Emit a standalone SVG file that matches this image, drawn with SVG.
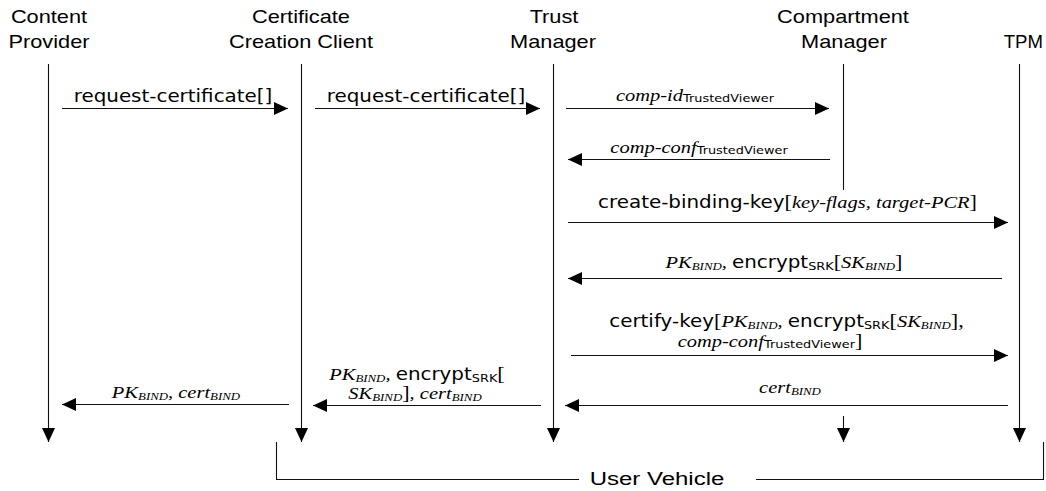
<svg xmlns="http://www.w3.org/2000/svg" width="1046" height="491" viewBox="0 0 1046 491">
<defs>
<style>
.hdr{font-family:"Liberation Sans",Arial,sans-serif;font-size:18.6px;fill:#000}
.lbl{font-family:"DejaVu Sans",Verdana,sans-serif;font-size:17px;fill:#000}
.it{font-family:"Liberation Serif","Times New Roman",serif;font-style:italic;font-size:17.5px}
.sr{font-family:"Liberation Serif","Times New Roman",serif;font-size:19px}
.sub{font-size:11px}
.ln{stroke:#111;stroke-width:1.1;fill:none}
</style>
<marker id="ah" markerUnits="userSpaceOnUse" markerWidth="14" markerHeight="13" refX="14" refY="6.5" orient="auto" viewBox="0 0 14 13">
<path d="M0,0 L14,6.5 L0,13 z" fill="#000"/>
</marker>
</defs>
<rect width="1046" height="491" fill="#fff"/>

<g id="content-provider">
<text class="hdr" transform="translate(49 0) scale(1.17 1)" x="0" y="23" text-anchor="middle">Content</text>
<text class="hdr" transform="translate(49 0) scale(1.17 1)" x="0" y="48" text-anchor="middle">Provider</text>
<line class="ln" x1="48.5" y1="64" x2="48.5" y2="442" marker-end="url(#ah)"/>
</g>
<g id="certificate-creation-client">
<text class="hdr" transform="translate(301 0) scale(1.17 1)" x="0" y="23" text-anchor="middle">Certificate</text>
<text class="hdr" transform="translate(301 0) scale(1.17 1)" x="0" y="48" text-anchor="middle">Creation Client</text>
<line class="ln" x1="301.5" y1="64" x2="301.5" y2="442" marker-end="url(#ah)"/>
</g>
<g id="trust-manager">
<text class="hdr" transform="translate(554 0) scale(1.17 1)" x="0" y="23" text-anchor="middle">Trust</text>
<text class="hdr" transform="translate(553 0) scale(1.17 1)" x="0" y="48" text-anchor="middle">Manager</text>
<line class="ln" x1="553.5" y1="64" x2="553.5" y2="442" marker-end="url(#ah)"/>
</g>
<g id="compartment-manager">
<text class="hdr" transform="translate(843 0) scale(1.17 1)" x="0" y="23" text-anchor="middle">Compartment</text>
<text class="hdr" transform="translate(844 0) scale(1.17 1)" x="0" y="48" text-anchor="middle">Manager</text>
<line class="ln" x1="843.5" y1="64" x2="843.5" y2="190"/>
<line class="ln" x1="843.5" y1="416" x2="843.5" y2="442" marker-end="url(#ah)"/>
</g>
<g id="tpm">
<text class="hdr" transform="translate(1043 0) scale(1.0 1)" x="0" y="48" text-anchor="end">TPM</text>
<line class="ln" x1="1019.5" y1="64" x2="1019.5" y2="442" marker-end="url(#ah)"/>
</g>

<g id="connectors">
<line class="ln" x1="62" y1="108.5" x2="288" y2="108.5" marker-end="url(#ah)"/>
<line class="ln" x1="315" y1="108.5" x2="540" y2="108.5" marker-end="url(#ah)"/>
<line class="ln" x1="566" y1="108.5" x2="829" y2="108.5" marker-end="url(#ah)"/>
<line class="ln" x1="830" y1="159.5" x2="568" y2="159.5" marker-end="url(#ah)"/>
<line class="ln" x1="568" y1="222.5" x2="1008" y2="222.5" marker-end="url(#ah)"/>
<line class="ln" x1="1002" y1="278.5" x2="568" y2="278.5" marker-end="url(#ah)"/>
<line class="ln" x1="571" y1="355.5" x2="1008" y2="355.5" marker-end="url(#ah)"/>
<line class="ln" x1="1008" y1="405.5" x2="565" y2="405.5" marker-end="url(#ah)"/>
<line class="ln" x1="541" y1="405.5" x2="313" y2="405.5" marker-end="url(#ah)"/>
<line class="ln" x1="289" y1="404.5" x2="62" y2="404.5" marker-end="url(#ah)"/>
</g>

<g id="labels">
<text class="lbl" transform="translate(173 0) scale(1.17 1)" x="0" y="102" text-anchor="middle">request-certificate[]</text>
<text class="lbl" transform="translate(426 0) scale(1.17 1)" x="0" y="102" text-anchor="middle">request-certificate[]</text>
<text class="lbl" transform="translate(695 0) scale(1.17 1)" x="0" y="101" text-anchor="middle"><tspan class="it">comp-id</tspan><tspan class="sub" dy="1.5">TrustedViewer</tspan></text>
<text class="lbl" transform="translate(699 0) scale(1.17 1)" x="0" y="153" text-anchor="middle"><tspan class="it">comp-conf</tspan><tspan class="sub" dy="1.5">TrustedViewer</tspan></text>
<text class="lbl" transform="translate(787.5 0) scale(1.17 1)" x="0" y="208" text-anchor="middle">create-binding-key<tspan class="sr">[</tspan><tspan class="it">key-flags, target-PCR</tspan><tspan class="sr">]</tspan></text>
<text class="lbl" transform="translate(784 0) scale(1.17 1)" x="0" y="268" text-anchor="middle"><tspan class="it">PK</tspan><tspan class="it sub" dy="2">BIND</tspan><tspan class="it" dy="-2">, </tspan>encrypt<tspan class="sub" dy="2">SRK</tspan><tspan class="sr" dy="-2">[</tspan><tspan class="it">SK</tspan><tspan class="it sub" dy="2">BIND</tspan><tspan class="sr" dy="-2">]</tspan></text>
<text class="lbl" transform="translate(786.5 0) scale(1.17 1)" x="0" y="327" text-anchor="middle">certify-key<tspan class="sr">[</tspan><tspan class="it">PK</tspan><tspan class="it sub" dy="2">BIND</tspan><tspan class="it" dy="-2">, </tspan>encrypt<tspan class="sub" dy="2">SRK</tspan><tspan class="sr" dy="-2">[</tspan><tspan class="it">SK</tspan><tspan class="it sub" dy="2">BIND</tspan><tspan class="sr" dy="-2">],</tspan></text>
<text class="lbl" transform="translate(770 0) scale(1.17 1)" x="0" y="347" text-anchor="middle"><tspan class="it">comp-conf</tspan><tspan class="sub" dy="1.5">TrustedViewer</tspan><tspan class="sr" dy="-1.5">]</tspan></text>
<text class="lbl" transform="translate(790 0) scale(1.17 1)" x="0" y="393" text-anchor="middle"><tspan class="it">cert</tspan><tspan class="it sub" dy="2">BIND</tspan></text>
<text class="lbl" transform="translate(417 0) scale(1.17 1)" x="0" y="380" text-anchor="middle"><tspan class="it">PK</tspan><tspan class="it sub" dy="2">BIND</tspan><tspan class="it" dy="-2">, </tspan>encrypt<tspan class="sub" dy="2">SRK</tspan><tspan class="sr" dy="-2">[</tspan></text>
<text class="lbl" transform="translate(415 0) scale(1.17 1)" x="0" y="399" text-anchor="middle"><tspan class="it">SK</tspan><tspan class="it sub" dy="2">BIND</tspan><tspan class="sr" dy="-2">]</tspan><tspan class="it">, cert</tspan><tspan class="it sub" dy="2">BIND</tspan></text>
<text class="lbl" transform="translate(176 0) scale(1.17 1)" x="0" y="398" text-anchor="middle"><tspan class="it">PK</tspan><tspan class="it sub" dy="2">BIND</tspan><tspan class="it" dy="-2">, cert</tspan><tspan class="it sub" dy="2">BIND</tspan></text>
</g>

<g id="user-vehicle">
<polyline class="ln" points="276.5,442 276.5,479.5 579,479.5"/>
<polyline class="ln" points="756,479.5 1043.5,479.5 1043.5,442"/>
<text class="hdr" transform="translate(657 0) scale(1.29 1)" x="0" y="485" text-anchor="middle">User Vehicle</text>
</g>
</svg>
